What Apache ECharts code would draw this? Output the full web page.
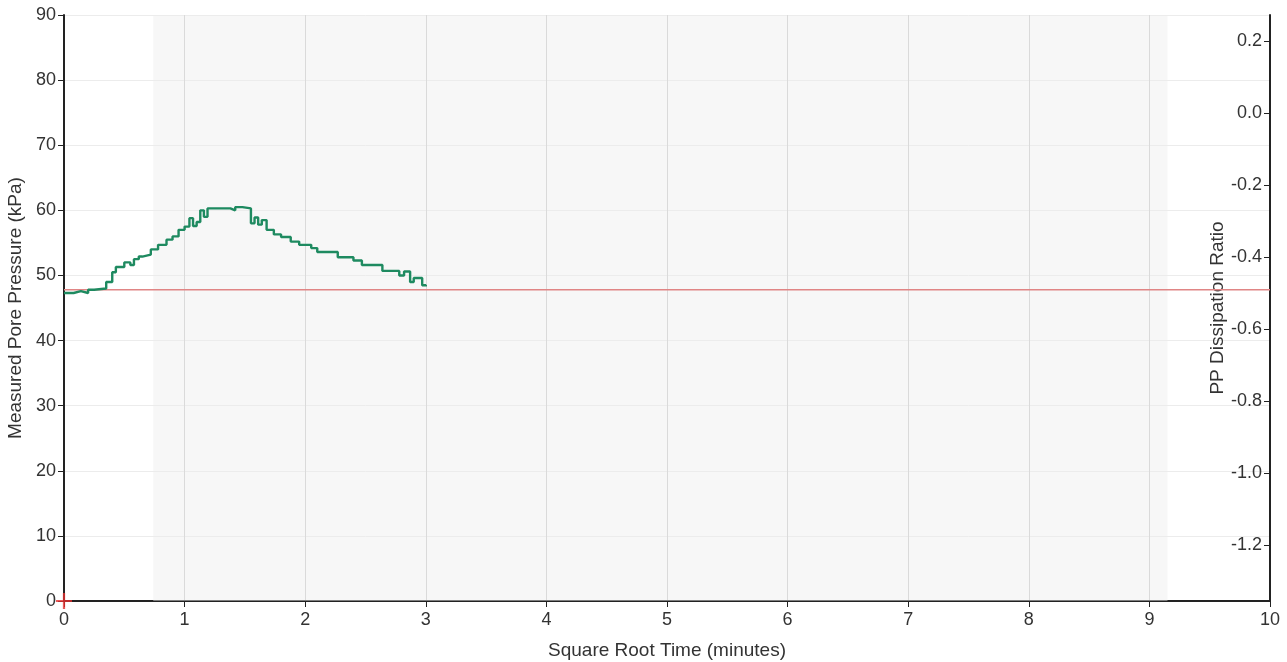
<!DOCTYPE html>
<html>
<head>
<meta charset="utf-8">
<script src="https://cdn.jsdelivr.net/npm/echarts@6/dist/echarts.min.js"></script>
<style>html,body{margin:0;padding:0;background:#fff;overflow:hidden}#c{width:1287px;height:662px}</style>
</head>
<body>
<div id="c"></div>
<script>
// Measured pore pressure (kPa) vs square root time (minutes), stepped readings
var timeX = [0.00,0.08,0.14,0.20,0.25,0.35,0.40,0.43,0.50,0.55,0.58,0.62,0.65,0.72,0.78,0.85,0.90,0.95,1.00,1.04,1.07,1.10,1.13,1.16,1.19,1.25,1.38,1.42,1.48,1.55,1.58,1.61,1.64,1.68,1.74,1.80,1.88,1.95,2.05,2.10,2.27,2.40,2.47,2.64,2.78,2.82,2.87,2.90,2.97,3.00];
var pressure = [47.3,47.6,47.3,47.8,48.0,49.0,50.5,51.3,52.0,51.6,52.5,52.9,53.2,54.0,54.7,55.5,56.0,57.0,57.5,58.8,57.6,58.2,60.0,59.0,60.3,60.3,60.0,60.5,60.3,58.0,58.9,57.8,58.5,57.0,56.3,55.9,55.2,54.7,54.2,53.6,52.8,52.3,51.6,50.7,50.0,50.6,49.0,49.6,48.5,48.3];
// Reference (red) line level in kPa
var refLevel = 47.8;
var xTicks = [0,1,2,3,4,5,6,7,8,9,10];
var leftTicks = [0,10,20,30,40,50,60,70,80,90];
var rightTicks = [0.2,0.0,-0.2,-0.4,-0.6,-0.8,-1.0,-1.2];
var shadedFrom = 0.74, shadedTo = 9.15;

var greenData = timeX.map(function(t,i){return [t, pressure[i]];});
var FF = 'Liberation Sans, Arial, sans-serif';
var txt = {color:'#333', fontFamily:FF, fontSize:18};
var nameTxt = {color:'#333', fontFamily:FF, fontSize:19};

var chart = echarts.init(document.getElementById('c'), null, {renderer:'canvas'});
chart.setOption({
  animation:false,
  backgroundColor:'#fff',
  grid:{left:64, right:17, top:15, bottom:61, containLabel:false, outerBoundsMode:'none'},
  xAxis:{
    type:'value', min:0, max:10, interval:1,
    name:'Square Root Time (minutes)', nameLocation:'middle', nameGap:40,
    nameTextStyle:nameTxt,
    axisLine:{show:true, onZero:false, lineStyle:{color:'#222', width:2}},
    axisTick:{show:true, length:6, lineStyle:{color:'#222'}},
    axisLabel:Object.assign({margin:10, formatter:function(v){return xTicks.indexOf(v)>=0?String(v):'';}}, txt),
    splitLine:{show:true, lineStyle:{color:'#cbcbcb', width:1}}
  },
  yAxis:[{
    type:'value', min:0, max:90, interval:10, position:'left',
    name:'Measured Pore Pressure (kPa)', nameLocation:'middle', nameGap:36, nameRotate:90,
    nameTextStyle:nameTxt,
    axisLine:{show:true, onZero:false, lineStyle:{color:'#222', width:2}},
    axisTick:{show:true, length:6, lineStyle:{color:'#222'}},
    axisLabel:Object.assign({margin:8, formatter:function(v){return leftTicks.indexOf(v)>=0?String(v):'';}}, txt),
    splitLine:{show:true, lineStyle:{color:'#ececec', width:1}}
  },{
    type:'value', min:-1.356, max:0.272, position:'right',
    axisLine:{show:true, onZero:false, lineStyle:{color:'#222', width:2}},
    axisTick:{show:true, inside:true, length:6, customValues:rightTicks, lineStyle:{color:'#222'}},
    axisLabel:Object.assign({inside:true, margin:8, customValues:rightTicks, formatter:function(v){return v.toFixed(1);}}, txt),
    splitLine:{show:false}
  },{
    type:'value', min:-1.356, max:0.272, position:'right', offset:-62,
    name:'PP Dissipation Ratio', nameLocation:'middle', nameGap:0, nameRotate:90,
    nameTextStyle:nameTxt,
    axisLine:{show:false}, axisTick:{show:false}, axisLabel:{show:false}, splitLine:{show:false}
  }],
  series:[{
    name:'shade', type:'line', data:[], silent:true,
    markArea:{silent:true, itemStyle:{color:'rgba(238,238,238,0.45)'}, data:[[{xAxis:shadedFrom},{xAxis:shadedTo}]]}
  },{
    name:'reference', type:'line', yAxisIndex:0, data:[[0,refLevel],[10,refLevel]],
    symbol:'none', lineStyle:{color:'#e08585', width:1.5}, z:3
  },{
    name:'pressure', type:'line', yAxisIndex:0, data:greenData, step:'end',
    symbol:'none', lineStyle:{color:'#1e8a60', width:2.4}, z:4
  },{
    name:'origin', type:'scatter', yAxisIndex:0, data:[[0,0]], clip:false,
    symbol:'path://M4.3,0 L5.7,0 L5.7,4.3 L10,4.3 L10,5.7 L5.7,5.7 L5.7,10 L4.3,10 L4.3,5.7 L0,5.7 L0,4.3 L4.3,4.3 Z',
    symbolSize:16, itemStyle:{color:'#e53030'}, z:20, zlevel:1
  }]
});
</script>
</body>
</html>
